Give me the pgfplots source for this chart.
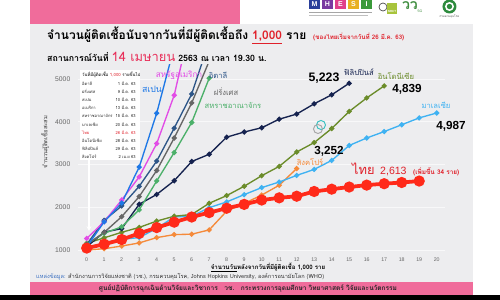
\documentclass[border=0pt]{standalone}
\usepackage{pgfplots}
\pgfplotsset{compat=1.18}
\usepackage{fontspec}
\setmainfont{Liberation Sans}
\newfontfamily\thai[Script=Thai]{Loma}
\usetikzlibrary{arrows.meta}
\definecolor{panel}{HTML}{EDEDEF}
\definecolor{pinkbar}{HTML}{F06C9B}
\definecolor{cSpain}{HTML}{1E78E6}
\definecolor{cUSA}{HTML}{E24CE6}
\definecolor{cItaly}{HTML}{2E5688}
\definecolor{cFrance}{HTML}{666666}
\definecolor{cUK}{HTML}{4CB06A}
\definecolor{cPhil}{HTML}{15224F}
\definecolor{cIndo}{HTML}{6B8C2A}
\definecolor{cMal}{HTML}{3FB2F2}
\definecolor{cThai}{HTML}{FF2A1A}
\definecolor{cSing}{HTML}{F58A3A}
\definecolor{titlered}{HTML}{E0202A}
\definecolor{datered}{HTML}{E8305A}
\definecolor{lgM}{HTML}{2A3F9A}
\definecolor{lgH}{HTML}{7A3AA0}
\definecolor{lgE}{HTML}{E0408A}
\definecolor{lgS}{HTML}{E8B020}
\definecolor{lgI}{HTML}{3A9A3A}
\definecolor{lgNRCT}{HTML}{A8C43C}
\definecolor{lgGreen}{HTML}{3C8C3C}
\definecolor{lgMoph}{HTML}{2E8B3E}
\definecolor{srcblue}{HTML}{3A6FC0}
\definecolor{tealc}{HTML}{35C0C0}
\newcommand{\fs}[1]{\fontsize{#1}{#1}\selectfont}

\pgfplotstableread{
d v
0 1073
1 1660
2 2100
3 2940
4 4200
5 5750
}\spain
\pgfplotstableread{
d v
0 1270
1 1663
2 2170
3 2710
4 3490
5 4620
6 6400
}\usa
\pgfplotstableread{
d v
0 1128
1 1694
2 2030
3 2490
4 3080
5 3850
6 4650
7 5880
}\italy
\pgfplotstableread{
d v
0 1126
1 1412
2 1780
3 2250
4 2860
5 3620
6 4440
7 5420
}\france
\pgfplotstableread{
d v
0 1140
1 1391
2 1543
3 1940
4 2615
5 3280
6 3983
7 5020
}\uk
\pgfplotstableread{
d v
0 1075
1 1418
2 1500
3 2070
4 2300
5 2620
6 3070
7 3240
8 3640
9 3760
10 3860
11 4060
12 4180
13 4420
14 4630
15 4900
}\phil
\pgfplotstableread{
d v
0 1155
1 1285
2 1414
3 1528
4 1677
5 1790
6 1830
7 2092
8 2273
9 2491
10 2738
11 2956
12 3293
13 3512
14 3842
15 4241
16 4557
17 4839
}\indo
\pgfplotstableread{
d v
0 1030
1 1170
2 1250
3 1290
4 1505
5 1775
6 1790
7 1990
8 2125
9 2295
10 2460
11 2590
12 2745
13 2885
14 3095
15 3445
16 3620
17 3770
18 3930
19 4090
20 4205
}\mal
\pgfplotstableread{
d v
0 1000
1 1030
2 1093
3 1165
4 1290
5 1360
6 1370
7 1470
8 1910
9 2090
10 2285
11 2515
12 2905
}\sing
\pgfplotstableread{
d v
0 1045
1 1136
2 1245
3 1388
4 1524
5 1651
6 1771
7 1875
8 1978
9 2067
10 2169
11 2220
12 2258
13 2369
14 2423
15 2473
16 2518
17 2551
18 2579
19 2613
}\thailand

\begin{document}
\begin{tikzpicture}
\useasboundingbox (0,0) rectangle (15cm,9cm);
\fill[white] (0,0) rectangle (15cm,9cm);
\begin{scope}[x=0.03cm,y=-0.03cm,shift={(0,9cm)}]
  % panel
  \fill[panel] (30,24) rectangle (473,282);
  \fill[pinkbar] (30,0) rectangle (240,24);
  \fill[pinkbar] (30,282) rectangle (473,295);
  \fill[black] (0,295) rectangle (500,300);
  % logos
  \fill[white] (305,0) rectangle (473,24);
  \fill[lgM] (309,0) rectangle (320,9); \node[white,font=\bfseries\fs{6}] at (314.5,4.5) {M};
  \fill[lgH] (322,0) rectangle (333,9); \node[white,font=\bfseries\fs{6}] at (327.5,4.5) {H};
  \fill[lgE] (335,0) rectangle (346,9); \node[white,font=\bfseries\fs{6}] at (340.5,4.5) {E};
  \fill[lgS] (348,0) rectangle (359,9); \node[white,font=\bfseries\fs{6}] at (353.5,4.5) {S};
  \fill[lgI] (361,0) rectangle (372,9); \node[white,font=\bfseries\fs{6}] at (366.5,4.5) {I};
  \fill[gray!70] (309,12.5) rectangle (372,13.3);
  \fill[gray!50] (309,15.3) rectangle (368,16);
  \draw[gray!60!black,line width=0.6pt] (383,7) circle (4);
  \fill[lgNRCT] (387,3) rectangle (397,14);
  \node[white,font=\bfseries\fs{2.5}] at (392,11) {NRCT};
  \node[lgGreen,font=\thai\bfseries\fs{12}] at (410,6) {วว};
  \node[lgGreen,font=\fs{3}] at (420,11) {5G};
  \fill[lgMoph] (449.5,6.5) circle (7);
  \fill[white] (449.5,6.5) circle (4.5);
  \fill[lgMoph] (449.5,6.5) circle (2.7);
  \node[gray!60!black,font=\thai\fs{2.5}] at (449.5,17) {กรมควบคุมโรค};
  % titles
  \node[anchor=base west,inner sep=0,font=\thai\bfseries\fs{10.2}] at (47,40)
    {จำนวนผู้ติดเชื้อนับจากวันที่มีผู้ติดเชื้อถึง \textcolor{titlered}{\underline{1,000}} ราย};
  \node[anchor=base west,inner sep=0,font=\thai\bfseries\fs{5.3},text=titlered] at (313,40)
    {(ของไทยเริ่มจากวันที่ 26 มี.ค. 63)};
  \node[anchor=base west,inner sep=0,font=\thai\bfseries\fs{7.5}] at (47,62)
    {สถานการณ์วันที่ \textcolor{datered}{\fs{11}\mdseries 14 เมษายน} 2563 ณ เวลา 19.30 น.};
  % bottom texts
  \node[anchor=base,inner sep=0,font=\thai\bfseries\fs{5.2}] at (268,269.5)
    {\underline{จำนวนวัน}หลังจากวันที่มีผู้ติดเชื้อ 1,000 ราย};
  \node[anchor=base west,inner sep=0,font=\thai\fs{4.8},text=black!80] at (36,279)
    {\textcolor{srcblue}{แหล่งข้อมูล:} สำนักงานการวิจัยแห่งชาติ (วช.), กรมควบคุมโรค, Johns Hopkins University, องค์การอนามัยโลก (WHO)};
  \node[anchor=base,inner sep=0,font=\thai\bfseries\fs{5.6},text=black!85] at (248,290.5)
    {ศูนย์ปฏิบัติการฉุกเฉินด้านวิจัยและวิชาการ\quad วช.\quad กระทรวงการอุดมศึกษา วิทยาศาสตร์ วิจัยและนวัตกรรม};
  \node[rotate=90,inner sep=0,font=\thai\fs{5},text=black!75] at (45,142) {จำนวนผู้ติดเชื้อสะสม};
\end{scope}

\begin{axis}[at={(2.3385cm,1.4358cm)}, anchor=south west, scale only axis,
  width=11.025cm, height=5.643cm,
  xmin=-0.5, xmax=20.5, ymin=950, ymax=5350,
  axis line style={draw=none}, tick style={draw=none},
  xtick={0,...,20}, ytick={1000,2000,3000,4000,5000},
  ymajorgrids, grid style={white!60!panel, line width=0.6pt},
  tick label style={text=black!60},
  x tick label style={font=\fs{4.5}, yshift=-1.5pt},
  y tick label style={font=\fs{5.8}, xshift=-3pt},
  /pgf/number format/assume math mode=true,
  /pgf/number format/1000 sep={},
  clip=true,
  every axis plot/.append style={line width=1.15pt, mark=*, mark size=1.6pt},
]
\addplot[cSing, mark options={fill=cSing}] table[x=d,y=v] {\sing};
\addplot[cMal, mark options={fill=cMal}] table[x=d,y=v] {\mal};
\addplot[cIndo, mark options={fill=cIndo}] table[x=d,y=v] {\indo};
\addplot[cPhil, mark options={fill=cPhil}] table[x=d,y=v] {\phil};
\addplot[cUK, mark options={fill=cUK}] table[x=d,y=v] {\uk};
\addplot[cFrance, mark options={fill=cFrance}] table[x=d,y=v] {\france};
\addplot[cItaly, mark options={fill=cItaly}] table[x=d,y=v] {\italy};
\addplot[cUSA, mark options={fill=cUSA}] table[x=d,y=v] {\usa};
\addplot[cSpain, mark options={fill=cSpain}] table[x=d,y=v] {\spain};
\addplot[cThai, line width=3.2pt, mark size=3.1pt, mark options={fill=cThai}] table[x=d,y=v] {\thailand};
\end{axis}

\begin{scope}[x=0.03cm,y=-0.03cm,shift={(0,9cm)}]
  % info box
  \fill[white] (80,70) rectangle (140,160);
  \draw[white,line width=1.2pt,-{Stealth[length=4pt,width=4pt]}] (89,160) -- (89,231);
  \node[anchor=base west,inner sep=0,font=\thai\fs{3.7}] at (82,77)
    {วันที่มีผู้ติดเชื้อ \textcolor{titlered}{1,000} รายขึ้นไป};
  \foreach \n/\dt [count=\i] in {อิตาลี/1 มี.ค. 63, ฝรั่งเศส/9 มี.ค. 63, สเปน/10 มี.ค. 63, อเมริกา/13 มี.ค. 63,
     สหราชอาณาจักร/15 มี.ค. 63, มาเลเซีย/20 มี.ค. 63, ไทย/26 มี.ค. 63, อินโดนีเซีย/28 มี.ค. 63,
     ฟิลิปปินส์/29 มี.ค. 63, สิงคโปร์/2 เม.ย 63}{
    \ifnum\i=7 \def\tc{titlered}\else\def\tc{black!85}\fi
    \node[anchor=base west,inner sep=0,font=\thai\fs{3.5},text=\tc] at (82,{85.3+8.15*(\i-1)}) {\n};
    \node[anchor=base east,inner sep=0,font=\thai\fs{3.5},text=\tc] at (136,{85.3+8.15*(\i-1)}) {\dt};
  }
  % series labels
  \node[font=\thai\fs{7.5},text=cSpain] at (152,89) {สเปน};
  \node[font=\thai\fs{7},text=cUSA] at (179,75) {สหรัฐอเมริกา};
  \node[font=\thai\fs{6.5},text=cItaly] at (218,75) {อิตาลี};
  \node[font=\thai\fs{6.5},text=cFrance] at (226,92) {ฝรั่งเศส};
  \node[font=\thai\fs{6.5},text=cUK] at (233,105) {สหราชอาณาจักร};
  \node[font=\thai\fs{6.5},text=cPhil] at (359,72) {ฟิลิปปินส์};
  \node[font=\thai\fs{6.5},text=cIndo] at (396,76) {อินโดนีเซีย};
  \node[font=\thai\fs{6.5},text=cMal] at (436,105) {มาเลเซีย};
  \node[font=\thai\fs{6.5},text=cSing] at (310,162) {สิงคโปร์};
  \node[font=\bfseries\fs{10.5}] at (324,78) {5,223};
  \node[font=\bfseries\fs{10}] at (407,89) {4,839};
  \node[font=\bfseries\fs{10}] at (451,126) {4,987};
  \node[font=\bfseries\fs{10}] at (329,151) {3,252};
  \node[anchor=base west,inner sep=0,font=\thai\fs{11},text=titlered] at (352,175) {ไทย};
  \node[anchor=base west,inner sep=0,font=\fs{9},text=titlered] at (380,175) {2,613};
  \node[anchor=base west,inner sep=0,font=\thai\bfseries\fs{5.5},text=titlered] at (413,175) {(เพิ่มขึ้น 34 ราย)};
  \draw[tealc,line width=0.8pt] (321,125) circle (4.5);
  \draw[gray!70,line width=0.8pt] (318,129) circle (4.5);
\end{scope}
\end{tikzpicture}
\end{document}
